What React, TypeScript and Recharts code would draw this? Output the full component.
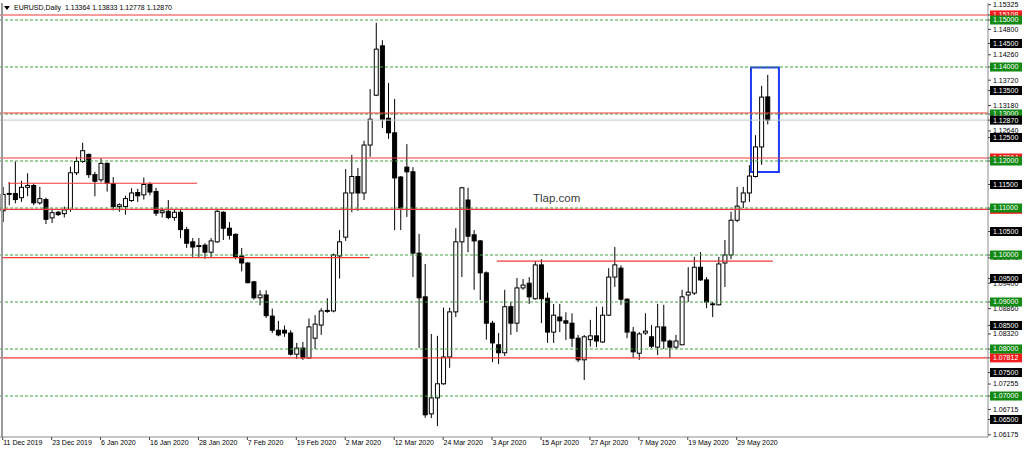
import {
  ComposedChart,
  Bar,
  XAxis,
  YAxis,
  ReferenceLine,
  ReferenceArea,
} from "recharts";

// trading days shown on the chart (one candle each)
const DATES = [
  "2019-12-11", "2019-12-12", "2019-12-13", "2019-12-16", "2019-12-17", "2019-12-18", "2019-12-19", "2019-12-20",
  "2019-12-23", "2019-12-24", "2019-12-26", "2019-12-27", "2019-12-30", "2019-12-31", "2020-01-02", "2020-01-03",
  "2020-01-06", "2020-01-07", "2020-01-08", "2020-01-09", "2020-01-10", "2020-01-13", "2020-01-14", "2020-01-15",
  "2020-01-16", "2020-01-17", "2020-01-20", "2020-01-21", "2020-01-22", "2020-01-23", "2020-01-24", "2020-01-27",
  "2020-01-28", "2020-01-29", "2020-01-30", "2020-01-31", "2020-02-03", "2020-02-04", "2020-02-05", "2020-02-06",
  "2020-02-07", "2020-02-10", "2020-02-11", "2020-02-12", "2020-02-13", "2020-02-14", "2020-02-17", "2020-02-18",
  "2020-02-19", "2020-02-20", "2020-02-21", "2020-02-24", "2020-02-25", "2020-02-26", "2020-02-27", "2020-02-28",
  "2020-03-02", "2020-03-03", "2020-03-04", "2020-03-05", "2020-03-06", "2020-03-09", "2020-03-10", "2020-03-11",
  "2020-03-12", "2020-03-13", "2020-03-16", "2020-03-17", "2020-03-18", "2020-03-19", "2020-03-20", "2020-03-23",
  "2020-03-24", "2020-03-25", "2020-03-26", "2020-03-27", "2020-03-30", "2020-03-31", "2020-04-01", "2020-04-02",
  "2020-04-03", "2020-04-06", "2020-04-07", "2020-04-08", "2020-04-09", "2020-04-10", "2020-04-13", "2020-04-14",
  "2020-04-15", "2020-04-16", "2020-04-17", "2020-04-20", "2020-04-21", "2020-04-22", "2020-04-23", "2020-04-24",
  "2020-04-27", "2020-04-28", "2020-04-29", "2020-04-30", "2020-05-01", "2020-05-04", "2020-05-05", "2020-05-06",
  "2020-05-07", "2020-05-08", "2020-05-11", "2020-05-12", "2020-05-13", "2020-05-14", "2020-05-15", "2020-05-18",
  "2020-05-19", "2020-05-20", "2020-05-21", "2020-05-22", "2020-05-25", "2020-05-26", "2020-05-27", "2020-05-28",
  "2020-05-29", "2020-06-01", "2020-06-02", "2020-06-03", "2020-06-04", "2020-06-05",
];

const OPEN = [
  1.1094, 1.1129, 1.1131, 1.1122, 1.1144, 1.1148, 1.1111, 1.1118, 1.1079, 1.1091, 1.1088, 1.1097, 1.1175, 1.1199,
  1.1214, 1.1171, 1.116, 1.1195, 1.1152, 1.1103, 1.1103, 1.1116, 1.1133, 1.1128, 1.115, 1.1135, 1.109, 1.1093,
  1.108, 1.1091, 1.1054, 1.1028, 1.102, 1.1021, 1.1006, 1.1028, 1.1091, 1.1057, 1.1044, 1.0998, 1.0983, 1.0943,
  1.0909, 1.0915, 1.087, 1.084, 1.084, 1.0834, 1.0789, 1.0802, 1.0781, 1.0823, 1.0851, 1.088, 1.0881, 1.0998,
  1.1038, 1.1132, 1.1167, 1.1132, 1.1234, 1.134, 1.1445, 1.1291, 1.126, 1.1166, 1.1187, 1.1177, 1.1004, 1.0911,
  1.0662, 1.0696, 1.0726, 1.0783, 1.0879, 1.1028, 1.1117, 1.1043, 1.103, 1.0962, 1.0855, 1.0809, 1.0792, 1.089,
  1.0855, 1.093, 1.094, 1.0907, 1.0979, 1.0908, 1.0836, 1.0868, 1.086, 1.0855, 1.0823, 1.0777, 1.082, 1.0828,
  1.0815, 1.0872, 1.0953, 1.0972, 1.0906, 1.0836, 1.0791, 1.0834, 1.0826, 1.0804, 1.0847, 1.0817, 1.0804, 1.0809,
  1.0915, 1.0919, 1.0974, 1.0947, 1.0896, 1.0894, 1.0983, 1.1, 1.1074, 1.1113, 1.1132, 1.1167, 1.123, 1.13364,
];

const HIGH = [
  1.1145, 1.1155, 1.1199, 1.1158, 1.1174, 1.1152, 1.1145, 1.1122, 1.1098, 1.1094, 1.1103, 1.1188, 1.1209, 1.1239,
  1.1216, 1.1177, 1.1206, 1.1197, 1.1166, 1.111, 1.1126, 1.1142, 1.1141, 1.1165, 1.1155, 1.1143, 1.11, 1.1117,
  1.1096, 1.1097, 1.106, 1.1036, 1.1036, 1.1025, 1.1036, 1.1096, 1.1093, 1.107, 1.1046, 1.1015, 1.0985, 1.0945,
  1.0925, 1.0925, 1.0886, 1.086, 1.085, 1.084, 1.0813, 1.0815, 1.0865, 1.0872, 1.0887, 1.0908, 1.1003, 1.1053,
  1.1183, 1.1213, 1.1185, 1.1243, 1.1353, 1.1494, 1.1457, 1.1366, 1.1332, 1.1168, 1.1236, 1.1187, 1.1045, 1.0981,
  1.0832, 1.0828, 1.0888, 1.0888, 1.1057, 1.1145, 1.1143, 1.1053, 1.1032, 1.0965, 1.086, 1.0834, 1.0926, 1.09,
  1.0951, 1.0949, 1.0953, 1.0987, 1.0991, 1.092, 1.0896, 1.0896, 1.0878, 1.0876, 1.083, 1.083, 1.0862, 1.089,
  1.089, 1.0972, 1.1017, 1.0978, 1.0908, 1.0847, 1.0836, 1.0876, 1.0851, 1.0896, 1.0894, 1.082, 1.083, 1.0926,
  1.0974, 1.0996, 1.1006, 1.0953, 1.09, 1.0996, 1.1032, 1.1092, 1.1145, 1.1145, 1.1191, 1.1255, 1.136, 1.13833,
];

const LOW = [
  1.107, 1.1106, 1.111, 1.1113, 1.1125, 1.1106, 1.1107, 1.1066, 1.1068, 1.1083, 1.108, 1.1092, 1.117, 1.1196,
  1.1164, 1.1125, 1.1155, 1.1135, 1.1095, 1.1092, 1.1086, 1.1113, 1.1113, 1.1118, 1.1127, 1.1083, 1.108, 1.1076,
  1.1073, 1.1036, 1.1015, 1.0996, 1.0996, 1.0992, 1.0994, 1.1026, 1.1032, 1.1033, 1.0991, 1.0965, 1.094, 1.0905,
  1.0893, 1.0866, 1.0834, 1.0827, 1.0826, 1.0786, 1.0779, 1.0777, 1.078, 1.08, 1.083, 1.0877, 1.0878, 1.095,
  1.103, 1.1091, 1.1094, 1.1117, 1.1209, 1.1338, 1.127, 1.1247, 1.1053, 1.1053, 1.1081, 1.0953, 1.0802, 1.0654,
  1.0653, 1.0636, 1.0724, 1.076, 1.0868, 1.0953, 1.1006, 1.0926, 1.0904, 1.082, 1.0772, 1.0768, 1.0785, 1.083,
  1.0836, 1.0926, 1.0896, 1.0905, 1.0855, 1.0813, 1.0813, 1.0836, 1.0819, 1.0804, 1.0772, 1.0734, 1.0805, 1.0804,
  1.0813, 1.087, 1.0932, 1.0894, 1.0823, 1.0781, 1.0777, 1.083, 1.0802, 1.0787, 1.08, 1.0781, 1.08, 1.0808,
  1.09, 1.0915, 1.0945, 1.0887, 1.0868, 1.0893, 1.0932, 1.0991, 1.107, 1.11, 1.1113, 1.1165, 1.1192, 1.12778,
];

const CLOSE = [
  1.1129, 1.1131, 1.1118, 1.1144, 1.1148, 1.1111, 1.112, 1.1076, 1.109, 1.1086, 1.1096, 1.1175, 1.1199, 1.1222,
  1.1171, 1.1157, 1.1195, 1.1153, 1.1103, 1.1107, 1.112, 1.1132, 1.1126, 1.115, 1.1134, 1.1089, 1.1094, 1.108,
  1.1091, 1.1054, 1.1025, 1.1017, 1.1018, 1.1006, 1.103, 1.1093, 1.1057, 1.1042, 1.0997, 1.0983, 1.0941, 1.0909,
  1.0915, 1.0871, 1.084, 1.083, 1.0834, 1.0789, 1.0802, 1.0781, 1.0847, 1.0853, 1.0881, 1.0882, 1.1, 1.1028,
  1.1132, 1.1167, 1.1132, 1.1234, 1.1289, 1.1438, 1.1289, 1.126, 1.1164, 1.11, 1.1177, 1.1004, 1.0909, 1.066,
  1.0696, 1.0726, 1.0783, 1.0879, 1.1028, 1.1143, 1.104, 1.103, 1.0962, 1.0855, 1.0813, 1.0792, 1.089, 1.0855,
  1.093, 1.0936, 1.0911, 1.0979, 1.0907, 1.0836, 1.0872, 1.086, 1.0855, 1.0823, 1.0777, 1.0826, 1.0828, 1.0817,
  1.0872, 1.0953, 1.0979, 1.0906, 1.0836, 1.0794, 1.0832, 1.0838, 1.0806, 1.0847, 1.0817, 1.0804, 1.0817, 1.0911,
  1.0921, 1.0974, 1.0947, 1.09, 1.0895, 1.0981, 1.1, 1.1074, 1.1104, 1.1132, 1.1168, 1.123, 1.1336, 1.1287,
];

// labelled candles on the time axis
const X_TICKS = [0, 8, 16, 24, 32, 40, 48, 56, 64, 72, 80, 88, 96, 104, 112, 120];

// price scale labels (the ones not hidden behind the level boxes)
const PLAIN_TICKS = [
  1.15325, 1.148, 1.1426, 1.1372, 1.1318, 1.1264, 1.0994, 1.094, 1.0886, 1.0832, 1.07255, 1.06715, 1.06175,
];
const RED_LEVELS = [1.15108, 1.12064, 1.10972, 1.07812];
const GREEN_LEVELS = [1.15, 1.14, 1.13, 1.12, 1.11, 1.1, 1.09, 1.08, 1.07];
const BLACK_LEVELS = [1.145, 1.135, 1.125, 1.115, 1.105, 1.095, 1.085, 1.075, 1.065];
const BID = 1.1287;

// extra horizontal lines: full width red and shorter red segments [price, from, to]
const RED_FULL = [1.15108, 1.1302, 1.12064, 1.10972, 1.07812];
const RED_SEGMENTS = [
  [1.11526, 0.9, 31.8],
  [1.09945, -0.3, 60],
  [1.0987, 80.8, 125.9],
];
const BOX = { x1: 122.33, x2: 126.9, y1: 1.11766, y2: 1.13989 };

const MONTHS = ["Jan", "Feb", "Mar", "Apr", "May", "Jun", "Jul", "Aug", "Sep", "Oct", "Nov", "Dec"];
const X_MIN = -0.441;
const X_MAX = 161.08;
const Y_MIN = 1.06128;
const Y_MAX = 1.15362;
const FONT = "'Liberation Sans', Arial, sans-serif";

const data = DATES.map((d, i) => ({
  idx: i,
  date: d,
  o: OPEN[i],
  h: HIGH[i],
  l: LOW[i],
  c: CLOSE[i],
  range: [LOW[i], HIGH[i]],
}));

const kindOf = new Map<string, string>();
PLAIN_TICKS.forEach((v) => kindOf.set(v.toFixed(5), "plain"));
RED_LEVELS.forEach((v) => kindOf.set(v.toFixed(5), "red"));
GREEN_LEVELS.forEach((v) => kindOf.set(v.toFixed(5), "green"));
BLACK_LEVELS.forEach((v) => kindOf.set(v.toFixed(5), "black"));
kindOf.set(BID.toFixed(5), "black");

const Y_TICKS = [...PLAIN_TICKS, ...RED_LEVELS, ...GREEN_LEVELS, ...BLACK_LEVELS, BID];

const fmtDate = (i: number) => {
  const d = DATES[i];
  if (!d) return "";
  const [y, m, day] = d.split("-");
  return `${parseInt(day)} ${MONTHS[parseInt(m) - 1]} ${y}`;
};

const Candle = (props: any) => {
  const { x, y, width, height, payload } = props;
  if (!payload || height == null) return null;
  const { o, h, l, c } = payload;
  const top = Math.min(y, y + height);
  const span = Math.abs(height);
  const cx = x + width / 2;
  const py = (p: number) => top + ((h - p) / (h - l)) * span;
  const bTop = py(Math.max(o, c));
  const bBot = py(Math.min(o, c));
  return (
    <g>
      <line x1={cx} x2={cx} y1={top} y2={top + span} stroke="#000" strokeWidth={1} />
      <rect
        x={cx - 2}
        y={bTop}
        width={4}
        height={Math.max(bBot - bTop, 0.8)}
        fill={c >= o ? "#fff" : "#000"}
        stroke="#000"
        strokeWidth={1}
      />
    </g>
  );
};

const XTick = (props: any) => {
  const { x, y, payload } = props;
  return (
    <text x={x + 0.5} y={y} dy="0.35em" fontSize={7} fontFamily={FONT} fill="#000" textAnchor="start">
      {fmtDate(payload.value)}
    </text>
  );
};

const YTick = (props: any) => {
  const { x, y, payload } = props;
  const v: number = payload.value;
  const kind = kindOf.get(v.toFixed(5)) || "plain";
  const label = v.toFixed(5);
  if (kind === "plain") {
    return (
      <text x={x} y={y} dy="0.35em" fontSize={7} fontFamily={FONT} fill="#000">
        {label}
      </text>
    );
  }
  const bg = kind === "red" ? "#f21c1c" : kind === "green" ? "#138a13" : "#000";
  return (
    <g>
      <rect x={x - 3} y={y - 4.5} width={32} height={9} fill={bg} />
      <text x={x} y={y} dy="0.35em" fontSize={7} fontFamily={FONT} fill="#fff">
        {label}
      </text>
    </g>
  );
};

export default function App() {
  return (
    <div style={{ position: "absolute", left: 0, top: 0, width: 1024, height: 453, background: "#fff" }}>
      <ComposedChart width={1024} height={453} data={data} margin={{ top: 3, right: 0, bottom: 0, left: 0 }}>
        <XAxis
          type="number"
          dataKey="idx"
          domain={[X_MIN, X_MAX]}
          allowDataOverflow
          ticks={X_TICKS}
          interval={0}
          height={16}
          tickSize={3}
          tickMargin={3}
          axisLine={{ stroke: "#8c8c8c" }}
          tickLine={{ stroke: "#444" }}
          tick={<XTick />}
        />
        <YAxis
          orientation="right"
          domain={[Y_MIN, Y_MAX]}
          allowDataOverflow
          ticks={Y_TICKS}
          interval={0}
          width={36}
          tickSize={3}
          tickMargin={2}
          axisLine={{ stroke: "#8c8c8c" }}
          tickLine={{ stroke: "#444" }}
          tick={<YTick />}
        />
        {GREEN_LEVELS.map((v) => (
          <ReferenceLine key={`g${v}`} y={v} stroke="#3fa33f" strokeDasharray="3 2" strokeWidth={1} />
        ))}
        <ReferenceLine y={BID} stroke="#c8c8c8" strokeWidth={1} />
        {RED_FULL.map((v) => (
          <ReferenceLine key={`r${v}`} y={v} stroke="#f03838" strokeWidth={1.1} />
        ))}
        {RED_SEGMENTS.map(([p, a, b]) => (
          <ReferenceLine
            key={`s${p}`}
            segment={[
              { x: a, y: p },
              { x: b, y: p },
            ]}
            stroke="#f03838"
            strokeWidth={1.1}
          />
        ))}
        <Bar dataKey="range" barSize={5} shape={Candle} isAnimationActive={false} />
        <ReferenceArea
          x1={BOX.x1}
          x2={BOX.x2}
          y1={BOX.y1}
          y2={BOX.y2}
          fill="none"
          fillOpacity={0}
          stroke="#1f3cf0"
          strokeWidth={2}
        />
      </ComposedChart>
      <div style={{ position: "absolute", left: 1, top: 3, width: 1.5, height: 434, background: "#9a9a9a" }} />
      <div
        style={{
          position: "absolute",
          left: 4,
          top: 3,
          fontFamily: FONT,
          fontSize: 7,
          lineHeight: "10px",
          whiteSpace: "pre",
          color: "#000",
        }}
      >
        <span
          style={{
            display: "inline-block",
            width: 0,
            height: 0,
            borderLeft: "3px solid transparent",
            borderRight: "3px solid transparent",
            borderTop: "4px solid #000",
            marginRight: 4,
            verticalAlign: "middle",
          }}
        />
        {"EURUSD,Daily  1.13364 1.13833 1.12778 1.12870"}
      </div>
      <div
        style={{
          position: "absolute",
          left: 533,
          top: 192,
          fontFamily: FONT,
          fontSize: 11.5,
          color: "#3a3a3a",
        }}
      >
        Tlap.com
      </div>
    </div>
  );
}
